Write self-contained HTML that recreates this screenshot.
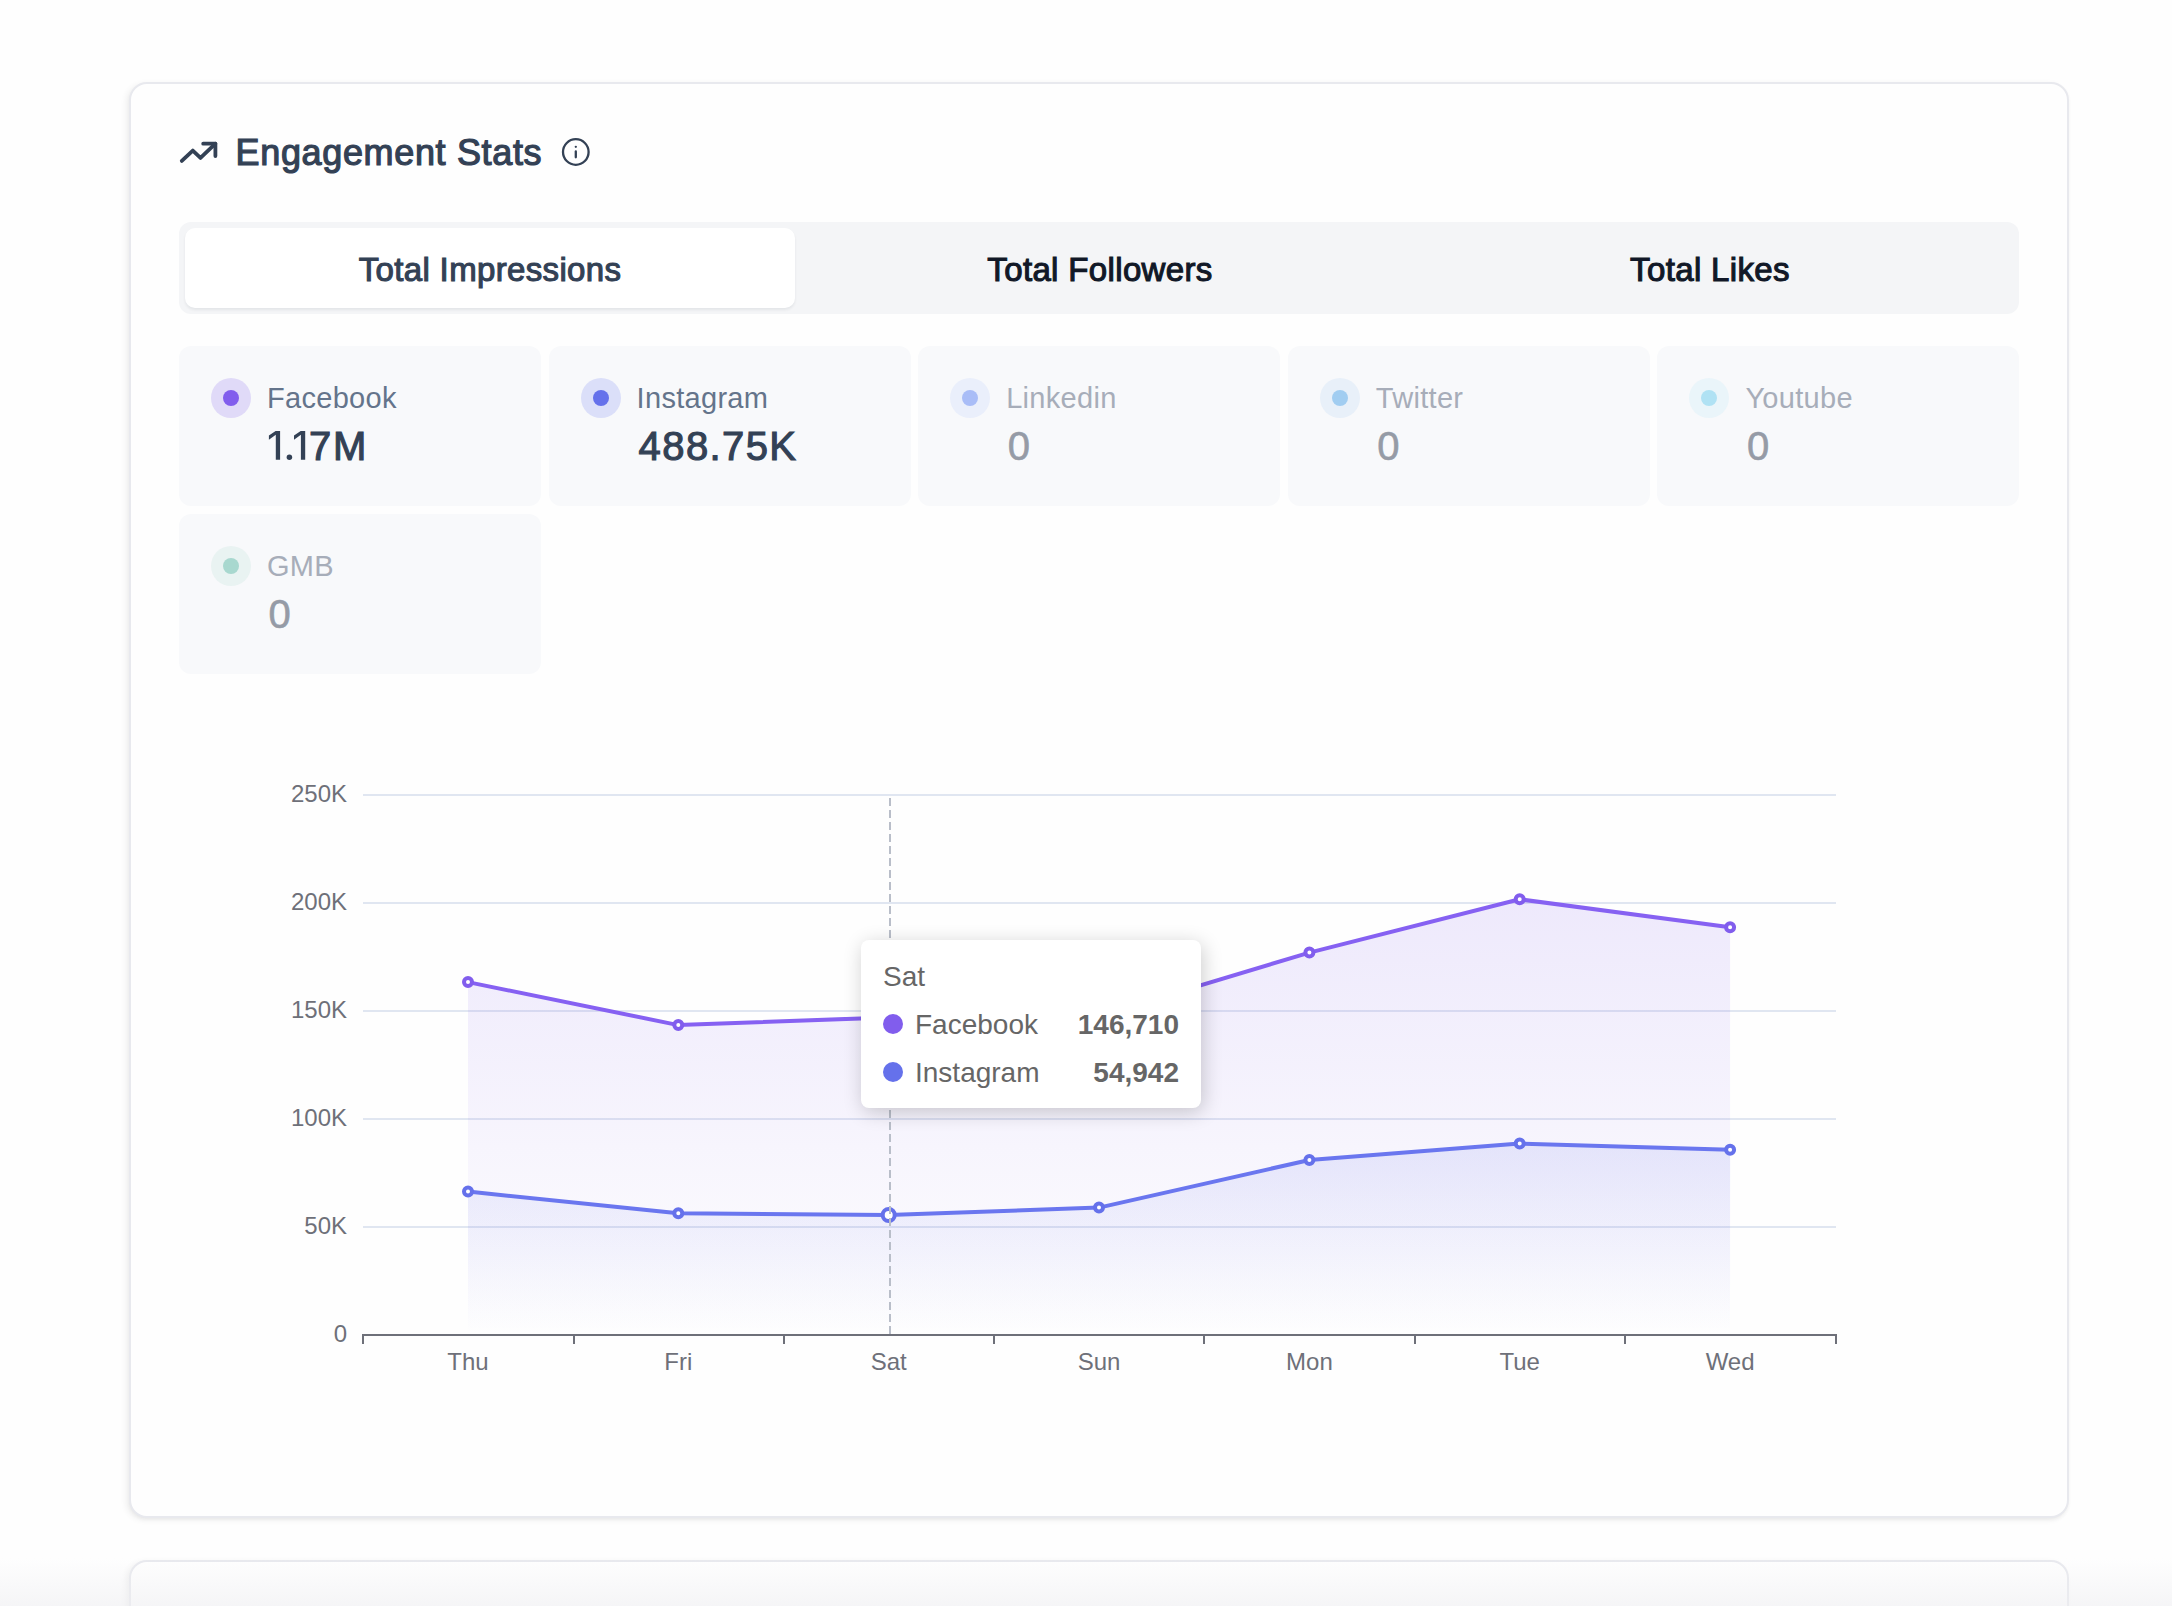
<!DOCTYPE html>
<html>
<head>
<meta charset="utf-8">
<style>
*{box-sizing:border-box;margin:0;padding:0}
html,body{width:2172px;height:1606px;overflow:hidden}
body{background:#fefefe;font-family:"Liberation Sans",sans-serif;position:relative}
.abs{position:absolute}
.card{position:absolute;left:129px;top:82px;width:1940px;height:1436px;background:#fefefe;border:2px solid #e8e9ee;border-radius:18px;box-shadow:-3px 2px 6px rgba(0,0,0,0.06),0 2px 4px -1px rgba(0,0,0,0.06)}
.card2{position:absolute;left:129px;top:1560px;width:1940px;height:200px;background:#fefefe;border:2px solid #e8e9ee;border-radius:18px;box-shadow:-3px 2px 6px rgba(0,0,0,0.06)}
.t{position:absolute;white-space:nowrap;line-height:1}
.title{left:235.6px;top:135px;font-size:36px;color:#334155;-webkit-text-stroke:1.2px #334155;letter-spacing:0.65px}
.tabbar{position:absolute;left:179px;top:222px;width:1840px;height:92px;background:#f4f5f7;border-radius:12px}
.tabact{position:absolute;left:185px;top:228px;width:610px;height:80px;background:#fff;border-radius:10px;box-shadow:0 2px 3px rgba(16,24,40,0.07)}
.tab{position:absolute;top:252.6px;width:610px;text-align:center;font-size:33px;line-height:1;color:#111827;-webkit-text-stroke:1.1px currentColor;letter-spacing:0.35px}
.sc{position:absolute;width:362px;height:160px;background:#f8f9fb;border-radius:12px}
.ring{position:absolute;left:32px;top:32px;width:40px;height:40px;border-radius:50%}
.dot{position:absolute;left:12px;top:12px;width:16px;height:16px;border-radius:50%}
.lab{position:absolute;left:88px;top:38px;font-size:29px;letter-spacing:0.3px;line-height:1;color:#64748b;white-space:nowrap}
.val{position:absolute;left:88px;top:80.1px;font-size:40px;line-height:1;color:#334155;white-space:nowrap;-webkit-text-stroke:1.1px #334155}
.dim .lab{color:#a7adb9}.dim .val{left:89.5px;color:#959ba6;-webkit-text-stroke:0.6px #959ba6}
.yl{position:absolute;width:80px;left:267px;text-align:right;font-size:24px;line-height:1;color:#6e7079}
.xl{position:absolute;width:120px;text-align:center;font-size:24px;line-height:1;color:#6e7079;top:1349.7px}
.tip{position:absolute;left:861px;top:940px;width:340px;height:168px;background:#fff;border-radius:8px;box-shadow:2px 4px 20px rgba(0,0,0,0.2)}
.tt{position:absolute;font-size:28px;line-height:1;color:#666;white-space:nowrap}
.tv{position:absolute;font-size:28px;line-height:1;color:#666;white-space:nowrap;font-weight:bold;text-align:right;width:150px}
.td{position:absolute;width:20px;height:20px;border-radius:50%}
.fade{position:absolute;left:0;top:1558px;width:2172px;height:48px;background:linear-gradient(to bottom,rgba(238,238,241,0),rgba(238,238,241,0.55))}
</style>
</head>
<body>
<div class="card"></div>
<div class="card2"></div>

<!-- title -->
<svg class="abs" style="left:0;top:0" width="2172" height="200">
  <g fill="none" stroke="#334155" stroke-width="3.8" stroke-linecap="round" stroke-linejoin="round">
    <polyline points="181.8,160.9 192.8,150.6 200.5,157.9 215.4,143.7"/>
    <polyline points="203.2,143.7 215.4,143.7 215.4,156"/>
  </g>
  <g fill="none" stroke="#334155" stroke-width="2.3" stroke-linecap="round">
    <circle cx="575.8" cy="152" r="12.8"/>
    <line x1="575.8" y1="151.5" x2="575.8" y2="157.3"/>
    <line x1="575.8" y1="146.8" x2="575.81" y2="146.8"/>
  </g>
</svg>
<div class="t title">Engagement Stats</div>

<!-- tabs -->
<div class="tabbar"></div>
<div class="tabact"></div>
<div class="tab" style="left:185px;color:#334155">Total Impressions</div>
<div class="tab" style="left:795px">Total Followers</div>
<div class="tab" style="left:1405px">Total Likes</div>

<!-- stat cards -->
<div class="sc" style="left:179px;top:346px">
  <div class="ring" style="background:#e0daf8"><div class="dot" style="background:#815ded"></div></div>
  <div class="lab">Facebook</div>
  <svg style="position:absolute;left:0;top:0" width="200" height="160"><g fill="#334155"><polygon points="89.9,89.4 96.6,85.1 101.1,85.1 101.1,113.8 96.8,113.8 96.8,88.8 89.9,93.7"/><polygon points="115.0,89.4 121.7,85.1 126.2,85.1 126.2,113.8 121.9,113.8 121.9,88.8 115.0,93.7"/><circle cx="110.4" cy="111.3" r="2.75"/></g></svg><div class="val" style="left:130px">7</div><div class="val" style="left:154.1px">M</div>
</div>
<div class="sc" style="left:548.6px;top:346px">
  <div class="ring" style="background:#dbdff9"><div class="dot" style="background:#6571eb"></div></div>
  <div class="lab">Instagram</div>
  <div class="val" style="left:90px;letter-spacing:1.4px">488.75K</div>
</div>
<div class="sc dim" style="left:918.2px;top:346px">
  <div class="ring" style="background:#eaeffb"><div class="dot" style="background:#a9bdf7"></div></div>
  <div class="lab">Linkedin</div>
  <div class="val">0</div>
</div>
<div class="sc dim" style="left:1287.8px;top:346px">
  <div class="ring" style="background:#e8f0f9"><div class="dot" style="background:#a1cdf1"></div></div>
  <div class="lab">Twitter</div>
  <div class="val">0</div>
</div>
<div class="sc dim" style="left:1657.4px;top:346px">
  <div class="ring" style="background:#eaf5fa"><div class="dot" style="background:#b0e2f4"></div></div>
  <div class="lab">Youtube</div>
  <div class="val">0</div>
</div>
<div class="sc dim" style="left:179px;top:514px">
  <div class="ring" style="background:#e9f3f2"><div class="dot" style="background:#a8d8cf"></div></div>
  <div class="lab">GMB</div>
  <div class="val">0</div>
</div>

<!-- chart -->
<svg class="abs" style="left:0;top:0" width="2172" height="1606">
  <defs>
    <linearGradient id="gfb" x1="0" y1="0" x2="0" y2="1">
      <stop offset="0" stop-color="#815ded" stop-opacity="0.13"/>
      <stop offset="1" stop-color="#815ded" stop-opacity="0"/>
    </linearGradient>
    <linearGradient id="gig" x1="0" y1="0" x2="0" y2="1">
      <stop offset="0" stop-color="#6571eb" stop-opacity="0.13"/>
      <stop offset="1" stop-color="#6571eb" stop-opacity="0"/>
    </linearGradient>
  </defs>
  <g fill="#e0e6f1">
    <rect x="363" y="794" width="1473" height="2"/>
    <rect x="363" y="902" width="1473" height="2"/>
    <rect x="363" y="1010" width="1473" height="2"/>
    <rect x="363" y="1118" width="1473" height="2"/>
    <rect x="363" y="1226" width="1473" height="2"/>
  </g>
  <path fill="url(#gfb)" d="M468,982.1 L678.3,1025.1 L888.7,1017.4 L1099,1015.8 L1309.4,952.6 L1519.7,899.3 L1730.1,927.2 L1730.1,1335 L468,1335 Z"/>
  <path fill="url(#gig)" d="M468,1191.6 L678.3,1213.3 L888.7,1215 L1099,1207.6 L1309.4,1160 L1519.7,1143.5 L1730.1,1149.8 L1730.1,1335 L468,1335 Z"/>
  <polyline fill="none" stroke="#8661f2" stroke-width="4" stroke-linejoin="round" points="468,982.1 678.3,1025.1 888.7,1017.4 1099,1015.8 1309.4,952.6 1519.7,899.3 1730.1,927.2"/>
  <polyline fill="none" stroke="#6a76ef" stroke-width="4" stroke-linejoin="round" points="468,1191.6 678.3,1213.3 888.7,1215 1099,1207.6 1309.4,1160 1519.7,1143.5 1730.1,1149.8"/>
  <g fill="#fff" stroke="#815ded" stroke-width="4">
    <circle cx="468" cy="982.1" r="4"/><circle cx="678.3" cy="1025.1" r="4"/><circle cx="1309.4" cy="952.6" r="4"/><circle cx="1519.7" cy="899.3" r="4"/><circle cx="1730.1" cy="927.2" r="4"/>
  </g>
  <g fill="#fff" stroke="#6571eb" stroke-width="4">
    <circle cx="468" cy="1191.6" r="4"/><circle cx="678.3" cy="1213.3" r="4"/><circle cx="888.7" cy="1215" r="6"/><circle cx="1099" cy="1207.6" r="4"/><circle cx="1309.4" cy="1160" r="4"/><circle cx="1519.7" cy="1143.5" r="4"/><circle cx="1730.1" cy="1149.8" r="4"/>
  </g>
  <line x1="890" y1="1334" x2="890" y2="795" stroke="#b9bec9" stroke-width="2" stroke-dasharray="8 4"/>
  <g fill="#6e7079">
    <rect x="362" y="1334" width="1475" height="2"/>
    <rect x="362" y="1334" width="2" height="10"/>
    <rect x="573" y="1334" width="2" height="10"/>
    <rect x="783" y="1334" width="2" height="10"/>
    <rect x="993" y="1334" width="2" height="10"/>
    <rect x="1203" y="1334" width="2" height="10"/>
    <rect x="1414" y="1334" width="2" height="10"/>
    <rect x="1624" y="1334" width="2" height="10"/>
    <rect x="1835" y="1334" width="2" height="10"/>
  </g>
</svg>

<div class="yl" style="top:781.8px">250K</div>
<div class="yl" style="top:889.8px">200K</div>
<div class="yl" style="top:997.8px">150K</div>
<div class="yl" style="top:1105.8px">100K</div>
<div class="yl" style="top:1213.8px">50K</div>
<div class="yl" style="top:1321.8px">0</div>

<div class="xl" style="left:408px">Thu</div>
<div class="xl" style="left:618.3px">Fri</div>
<div class="xl" style="left:828.7px">Sat</div>
<div class="xl" style="left:1039px">Sun</div>
<div class="xl" style="left:1249.4px">Mon</div>
<div class="xl" style="left:1459.7px">Tue</div>
<div class="xl" style="left:1670.1px">Wed</div>

<!-- tooltip -->
<div class="tip">
  <div class="tt" style="left:22px;top:22.8px">Sat</div>
  <div class="td" style="left:22px;top:74px;background:#815ded"></div>
  <div class="tt" style="left:54px;top:70.5px">Facebook</div>
  <div class="tv" style="left:168px;top:70.5px">146,710</div>
  <div class="td" style="left:22px;top:122px;background:#6571eb"></div>
  <div class="tt" style="left:54px;top:119px">Instagram</div>
  <div class="tv" style="left:168px;top:119px">54,942</div>
</div>

<div class="fade"></div>
</body>
</html>
